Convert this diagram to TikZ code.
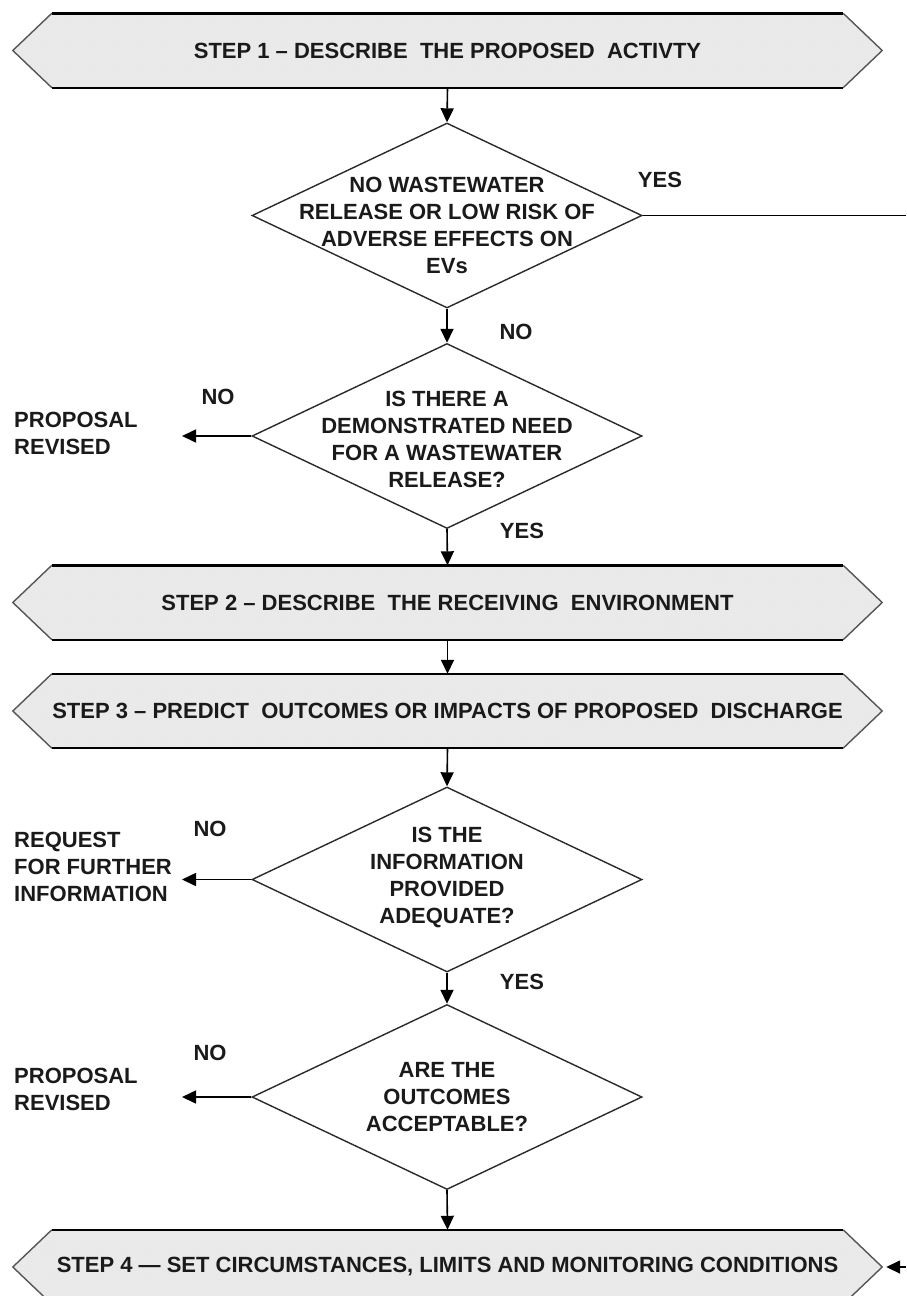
\documentclass[tikz,border=0pt]{standalone}
\usepackage{fontspec}
\setmainfont{Liberation Sans}
\usetikzlibrary{arrows.meta,shapes.geometric,calc,backgrounds,patterns}
\definecolor{txt}{HTML}{1A1A1A}
\definecolor{dline}{HTML}{2A2A2A}
\definecolor{bfill}{HTML}{EBEBEB}
\definecolor{bside}{HTML}{555555}
\begin{document}
\begin{tikzpicture}[x=1pt,y=-1pt,
  every node/.style={font=\fontsize{22}{27}\selectfont\bfseries, text=txt},
  banner/.style={minimum width=791pt, minimum height=74pt, inner sep=0pt},
  dia/.style={diamond, draw=dline, line width=1.4pt, minimum width=390pt, minimum height=185pt, inner sep=0pt},
  dtext/.style={align=center, inner sep=0pt},
  sidelab/.style={align=left, anchor=west, inner sep=0pt},
  lab/.style={inner sep=0pt},
  arr/.style={line width=1.6pt, draw=black, -{Triangle[length=14pt,width=13pt]}},
  plain/.style={line width=1.8pt, draw=black},
  bedge/.style={line width=2.4pt, draw=black},
  bsideline/.style={line width=1.4pt, draw=bside}
]
\useasboundingbox (0,0) rectangle (906,1296);

% banners
\node[banner] (s1) at (447.5,50.5) {STEP 1 -- DESCRIBE\ \ THE PROPOSED\ \ ACTIVTY};
\node[banner] (s2) at (447.5,602.5) {STEP 2 -- DESCRIBE\ \ THE RECEIVING\ \ ENVIRONMENT};
\node[banner] (s3) at (447.5,711) {STEP 3 -- PREDICT\ \ OUTCOMES OR IMPACTS OF PROPOSED\ \ DISCHARGE};
\node[banner] (s4) at (447.5,1267) {STEP 4 --- SET CIRCUMSTANCES, LIMITS AND MONITORING CONDITIONS};

\begin{scope}[on background layer]
\foreach \b in {s1,s2,s3,s4}{
  \fill[bfill] (\b.north west) -- (\b.north east) -- ($(\b.east)+(39,0)$) -- (\b.south east)
     -- (\b.south west) -- ($(\b.west)+(-39,0)$) -- cycle;
  \fill[pattern=crosshatch dots, pattern color=black!10] (\b.north west) -- (\b.north east) -- ($(\b.east)+(39,0)$) -- (\b.south east)
     -- (\b.south west) -- ($(\b.west)+(-39,0)$) -- cycle;
  \draw[bsideline] (\b.north west) -- ($(\b.west)+(-39,0)$) -- (\b.south west);
  \draw[bsideline] (\b.north east) -- ($(\b.east)+(39,0)$) -- (\b.south east);
  \draw[bedge] (\b.north west) -- (\b.north east);
  \draw[bedge] (\b.south west) -- (\b.south east);
}
\end{scope}

% diamonds
\node[dia] (d1) at (447,215.5) {};
\node[dia] (d2) at (447,436) {};
\node[dia] (d3) at (447,879.5) {};
\node[dia] (d4) at (447,1097) {};

\node[dtext] (t1) at (447,225) {NO WASTEWATER\\RELEASE OR LOW RISK OF\\ADVERSE EFFECTS ON\\EVs};
\node[dtext] (t2) at (447,439) {IS THERE A\\DEMONSTRATED NEED\\FOR A WASTEWATER\\RELEASE?};
\node[dtext] (t3) at (447,877.5) {IS THE\\INFORMATION\\PROVIDED\\ADEQUATE?};
\node[dtext] (t4) at (447,1097) {ARE THE\\OUTCOMES\\ACCEPTABLE?};

% side outcomes
\node[sidelab] (o2) at (14,433.5) {PROPOSAL\\REVISED};
\node[sidelab] (o3) at (14,867) {REQUEST\\FOR FURTHER\\INFORMATION};
\node[sidelab] (o4) at (14,1089) {PROPOSAL\\REVISED};

% labels
\node[lab] (yes1) at (660,180) {YES};
\node[lab] (no1) at (516,332) {NO};
\node[lab] (no2) at (218,397) {NO};
\node[lab] (yes2) at (522,531) {YES};
\node[lab] (no3) at (210,829) {NO};
\node[lab] (yes3) at (522,982) {YES};
\node[lab] (no4) at (210,1053) {NO};

% coordinates
\coordinate (c2) at (182,436);
\coordinate (c3) at (182,879.5);
\coordinate (c4) at (182,1097);
\coordinate (yesend) at (906,215.5);
\coordinate (backin) at (906,1267);
\coordinate (s4tip) at ($(s4.east)+(43,0)$);

% connectors
\draw[arr] (s1.south) -- (d1.north);
\draw[arr] (d1.south) -- (d2.north);
\draw[arr] (d2.south) -- (s2.north);
\draw[arr] (s2.south) -- (s3.north);
\draw[arr] (s3.south) -- (d3.north);
\draw[arr] (d3.south) -- (d4.north);
\draw[arr] (d4.south) -- (s4.north);
\draw[arr] (d2.west) -- (c2);
\draw[arr] (d3.west) -- (c3);
\draw[arr] (d4.west) -- (c4);
\draw[plain] (d1.east) -- (yesend);
\draw[arr] (backin) -- (s4tip);
\end{tikzpicture}
\end{document}
